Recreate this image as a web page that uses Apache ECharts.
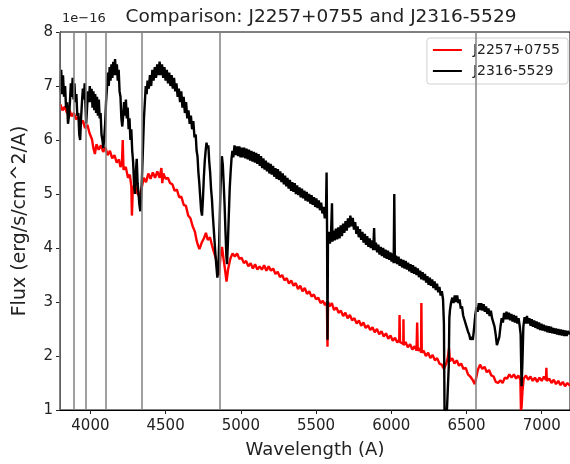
<!DOCTYPE html>
<html><head><meta charset="utf-8">
<script src="https://cdn.jsdelivr.net/npm/echarts@6/dist/echarts.min.js"></script>
<style>html,body{margin:0;padding:0;background:#fff}#c{width:570px;height:464px}</style>
</head><body><div id="c"></div>
<script>
const titleText = 'Comparison: J2257+0755 and J2316-5529';
const nameRed = 'J2257+0755';
const nameBlack = 'J2316-5529';
const xTicks = [4000, 4500, 5000, 5500, 6000, 6500, 7000];
const yTicks = [1, 2, 3, 4, 5, 6, 7, 8];
const lineWaves = [3798, 3889, 3970, 4102, 4340, 4861, 6563];

const j2257 = [[3800,6.66],[3815,6.55],[3830,6.62],[3845,6.5],[3860,6.56],[3875,6.44],[3890,6.5],[3905,6.38],[3920,6.44],[3935,6.3],[3950,6.36],[3965,6.22],[3980,6.28],[3995,6.12],[4010,6.02],[4020,5.85],[4030,5.74],[4040,5.92],[4055,5.82],[4070,5.9],[4085,5.78],[4100,5.86],[4115,5.72],[4130,5.8],[4145,5.66],[4160,5.72],[4175,5.58],[4190,5.64],[4200,5.5],[4210,5.58],[4215,6.0],[4220,5.45],[4235,5.5],[4250,5.3],[4262,5.36],[4272,5.15],[4276,4.6],[4282,5.1],[4295,5.18],[4310,5.02],[4325,4.96],[4340,5.1],[4355,5.3],[4370,5.22],[4385,5.38],[4400,5.28],[4415,5.4],[4430,5.3],[4445,5.42],[4460,5.3],[4472,5.48],[4478,5.2],[4485,5.38],[4500,5.28],[4515,5.3],[4530,5.2],[4545,5.18],[4560,5.06],[4575,5.08],[4590,4.94],[4605,4.95],[4620,4.8],[4635,4.78],[4650,4.6],[4665,4.55],[4680,4.4],[4695,4.3],[4705,4.15],[4715,4.05],[4725,3.98],[4740,4.1],[4755,4.18],[4768,4.28],[4780,4.15],[4795,4.2],[4808,4.05],[4820,4.02],[4835,3.8],[4848,3.55],[4855,3.5],[4865,3.85],[4875,4.02],[4885,3.8],[4895,3.6],[4905,3.38],[4915,3.6],[4930,3.8],[4945,3.9],[4960,3.84],[4975,3.9],[4990,3.8],[5005,3.82],[5020,3.72],[5035,3.76],[5050,3.66],[5065,3.72],[5080,3.62],[5095,3.7],[5110,3.6],[5125,3.66],[5140,3.6],[5155,3.68],[5170,3.58],[5185,3.66],[5200,3.58],[5215,3.62],[5230,3.52],[5245,3.56],[5260,3.46],[5275,3.5],[5290,3.4],[5305,3.44],[5320,3.34],[5335,3.4],[5350,3.3],[5365,3.35],[5380,3.24],[5395,3.3],[5410,3.2],[5425,3.26],[5440,3.15],[5455,3.2],[5470,3.1],[5485,3.14],[5500,3.05],[5515,3.08],[5530,2.98],[5545,3.02],[5560,2.94],[5572,3.0],[5576,2.17],[5580,3.0],[5590,2.92],[5605,2.98],[5620,2.85],[5635,2.9],[5650,2.8],[5665,2.84],[5680,2.74],[5695,2.8],[5710,2.7],[5725,2.76],[5740,2.66],[5755,2.7],[5770,2.6],[5785,2.66],[5800,2.56],[5815,2.62],[5830,2.52],[5845,2.57],[5860,2.48],[5875,2.53],[5890,2.44],[5905,2.5],[5920,2.4],[5935,2.46],[5950,2.36],[5965,2.42],[5980,2.32],[5995,2.38],[6010,2.28],[6025,2.34],[6040,2.25],[6053,2.3],[6055,2.76],[6058,2.26],[6070,2.28],[6080,2.22],[6081,2.68],[6083,2.2],[6095,2.26],[6110,2.16],[6125,2.22],[6140,2.12],[6155,2.18],[6168,2.1],[6172,2.62],[6176,2.1],[6190,2.14],[6198,2.06],[6200,2.98],[6203,2.06],[6215,2.1],[6230,2.0],[6245,2.06],[6260,1.96],[6275,2.02],[6290,1.92],[6305,1.96],[6320,1.86],[6335,1.84],[6350,1.76],[6365,1.86],[6375,1.96],[6384,2.14],[6390,1.9],[6405,1.96],[6420,1.86],[6435,1.92],[6450,1.82],[6465,1.86],[6480,1.76],[6495,1.78],[6510,1.66],[6525,1.62],[6540,1.56],[6555,1.48],[6565,1.6],[6575,1.74],[6590,1.84],[6605,1.76],[6620,1.8],[6635,1.7],[6650,1.74],[6665,1.64],[6680,1.62],[6695,1.52],[6710,1.5],[6725,1.55],[6740,1.5],[6755,1.6],[6770,1.58],[6785,1.66],[6800,1.6],[6815,1.66],[6830,1.58],[6845,1.64],[6858,1.56],[6862,1.0],[6866,1.05],[6872,1.35],[6880,1.58],[6895,1.64],[6910,1.56],[6925,1.62],[6940,1.54],[6955,1.6],[6970,1.52],[6985,1.6],[7000,1.54],[7015,1.62],[7028,1.56],[7031,1.78],[7034,1.54],[7050,1.58],[7065,1.5],[7080,1.56],[7095,1.48],[7110,1.54],[7125,1.46],[7140,1.52],[7155,1.44],[7170,1.5],[7188,1.45]];

const j2316 = [[3800,6.9],[3806,7.3],[3812,6.85],[3818,7.2],[3825,6.8],[3832,7.0],[3838,6.6],[3845,6.7],[3851,6.3],[3858,6.45],[3864,6.7],[3870,7.05],[3876,6.8],[3882,7.15],[3888,6.75],[3894,7.05],[3900,6.7],[3907,6.85],[3913,6.45],[3920,6.5],[3926,6.1],[3932,6.0],[3938,6.4],[3944,6.7],[3950,6.95],[3956,6.75],[3962,7.05],[3968,6.6],[3972,6.3],[3978,6.6],[3984,6.9],[3990,6.7],[3996,7.0],[4002,6.7],[4008,6.95],[4014,6.6],[4020,6.9],[4026,6.55],[4032,6.85],[4038,6.5],[4044,6.8],[4050,6.45],[4056,6.75],[4062,6.4],[4068,6.5],[4074,6.1],[4080,6.0],[4086,5.85],[4092,6.05],[4098,6.3],[4104,6.7],[4110,6.95],[4116,7.25],[4122,7.0],[4128,7.35],[4134,7.1],[4140,7.4],[4146,7.15],[4152,7.45],[4158,7.2],[4164,7.5],[4170,7.2],[4176,7.4],[4182,7.1],[4188,7.3],[4194,6.9],[4200,6.8],[4206,6.4],[4212,6.25],[4218,6.45],[4224,6.7],[4230,6.45],[4236,6.75],[4242,6.4],[4248,6.6],[4254,6.2],[4260,6.4],[4266,6.0],[4272,6.2],[4278,5.8],[4284,5.6],[4290,5.2],[4296,5.0],[4302,5.4],[4308,5.65],[4314,5.2],[4320,5.0],[4326,4.8],[4332,4.68],[4338,4.95],[4344,5.4],[4350,5.9],[4356,6.4],[4362,6.7],[4368,7.0],[4374,6.85],[4380,7.1],[4388,6.95],[4396,7.2],[4404,7.0],[4412,7.3],[4420,7.1],[4428,7.35],[4436,7.15],[4444,7.4],[4452,7.2],[4460,7.45],[4468,7.2],[4476,7.4],[4484,7.15],[4492,7.35],[4500,7.1],[4508,7.3],[4516,7.05],[4524,7.25],[4532,7.0],[4540,7.2],[4548,6.95],[4556,7.15],[4564,6.9],[4572,7.05],[4580,6.8],[4588,6.95],[4596,6.7],[4604,6.9],[4612,6.6],[4620,6.8],[4628,6.5],[4636,6.7],[4644,6.4],[4652,6.55],[4660,6.3],[4668,6.45],[4676,6.2],[4684,6.35],[4692,6.05],[4700,6.1],[4706,5.8],[4712,5.7],[4718,5.4],[4724,5.2],[4730,4.95],[4736,4.7],[4742,4.6],[4748,4.9],[4754,5.3],[4760,5.6],[4766,5.8],[4772,5.95],[4778,5.85],[4784,5.9],[4790,5.6],[4796,5.4],[4802,5.1],[4808,4.9],[4814,4.6],[4820,4.35],[4826,4.1],[4832,3.85],[4838,3.65],[4844,3.45],[4850,3.6],[4856,4.1],[4862,4.8],[4868,5.4],[4874,5.7],[4880,5.55],[4886,5.2],[4892,4.8],[4898,4.3],[4904,3.85],[4908,3.7],[4914,4.1],[4920,4.6],[4926,5.1],[4932,5.4],[4938,5.65],[4944,5.8],[4950,5.68],[4958,5.9],[4966,5.72],[4974,5.88],[4982,5.7],[4990,5.88],[4998,5.68],[5006,5.86],[5014,5.68],[5022,5.86],[5030,5.66],[5038,5.84],[5046,5.64],[5054,5.82],[5062,5.62],[5070,5.8],[5078,5.6],[5086,5.78],[5094,5.58],[5102,5.76],[5110,5.56],[5118,5.74],[5126,5.52],[5134,5.7],[5142,5.48],[5150,5.66],[5158,5.45],[5166,5.62],[5174,5.42],[5182,5.58],[5190,5.38],[5198,5.56],[5206,5.36],[5214,5.52],[5222,5.32],[5230,5.48],[5238,5.28],[5246,5.46],[5254,5.26],[5262,5.42],[5270,5.22],[5278,5.38],[5286,5.18],[5294,5.34],[5302,5.14],[5310,5.3],[5318,5.1],[5326,5.26],[5334,5.06],[5342,5.22],[5350,5.04],[5358,5.2],[5366,5.0],[5374,5.16],[5382,4.98],[5390,5.12],[5398,4.94],[5406,5.1],[5414,4.92],[5422,5.06],[5430,4.88],[5438,5.04],[5446,4.86],[5454,5.0],[5462,4.82],[5470,4.98],[5478,4.8],[5486,4.94],[5494,4.76],[5502,4.92],[5510,4.74],[5518,4.88],[5526,4.7],[5534,4.84],[5542,4.64],[5550,4.76],[5558,4.55],[5566,4.66],[5570,5.4],[5573,4.4],[5576,2.3],[5579,4.1],[5585,4.3],[5592,4.08],[5600,4.3],[5606,4.83],[5609,4.12],[5616,4.32],[5624,4.14],[5632,4.36],[5640,4.16],[5648,4.38],[5656,4.18],[5664,4.42],[5672,4.22],[5680,4.45],[5688,4.28],[5696,4.5],[5704,4.32],[5712,4.55],[5720,4.38],[5728,4.6],[5736,4.4],[5744,4.56],[5752,4.34],[5760,4.48],[5768,4.26],[5776,4.4],[5784,4.2],[5792,4.35],[5800,4.15],[5808,4.3],[5816,4.1],[5824,4.26],[5832,4.06],[5840,4.22],[5848,4.02],[5856,4.18],[5864,4.0],[5872,4.14],[5880,3.96],[5886,4.37],[5890,3.96],[5898,4.1],[5906,3.92],[5914,4.06],[5922,3.88],[5930,4.02],[5938,3.85],[5946,4.0],[5954,3.82],[5962,3.97],[5970,3.8],[5978,3.95],[5986,3.78],[5994,3.92],[6002,3.75],[6010,3.9],[6016,3.72],[6020,5.0],[6024,3.72],[6032,3.86],[6040,3.7],[6048,3.84],[6056,3.67],[6064,3.8],[6072,3.64],[6080,3.78],[6088,3.62],[6096,3.76],[6104,3.6],[6112,3.73],[6120,3.57],[6128,3.7],[6136,3.54],[6144,3.68],[6152,3.52],[6160,3.65],[6168,3.5],[6176,3.62],[6184,3.46],[6192,3.58],[6200,3.42],[6208,3.55],[6216,3.4],[6224,3.52],[6232,3.36],[6240,3.48],[6248,3.32],[6256,3.45],[6264,3.3],[6272,3.42],[6280,3.26],[6288,3.38],[6296,3.22],[6304,3.34],[6312,3.18],[6320,3.28],[6328,3.12],[6336,3.2],[6344,3.05],[6350,2.6],[6354,1.0],[6362,1.0],[6370,1.0],[6378,1.0],[6382,1.8],[6386,2.7],[6390,2.85],[6398,3.0],[6406,3.08],[6414,2.98],[6422,3.12],[6430,3.0],[6438,3.12],[6446,2.98],[6454,3.05],[6462,2.88],[6470,2.92],[6478,2.75],[6486,2.78],[6494,2.6],[6502,2.62],[6510,2.45],[6518,2.4],[6526,2.3],[6534,2.35],[6542,2.3],[6550,2.5],[6558,2.75],[6566,2.9],[6574,2.82],[6582,2.98],[6590,2.85],[6598,2.98],[6606,2.84],[6614,2.96],[6622,2.82],[6630,2.92],[6638,2.78],[6646,2.88],[6654,2.74],[6662,2.84],[6670,2.7],[6678,2.72],[6686,2.55],[6694,2.4],[6702,2.2],[6710,2.17],[6718,2.35],[6726,2.55],[6734,2.7],[6742,2.62],[6750,2.8],[6758,2.68],[6766,2.82],[6774,2.68],[6782,2.8],[6790,2.66],[6798,2.78],[6806,2.64],[6814,2.76],[6822,2.62],[6830,2.74],[6838,2.6],[6846,2.7],[6854,2.55],[6860,2.4],[6866,1.44],[6872,1.9],[6878,2.55],[6886,2.72],[6894,2.6],[6902,2.74],[6910,2.6],[6918,2.7],[6926,2.56],[6934,2.68],[6942,2.54],[6950,2.66],[6958,2.52],[6966,2.64],[6974,2.5],[6982,2.62],[6990,2.48],[6998,2.6],[7006,2.47],[7014,2.58],[7022,2.46],[7030,2.56],[7038,2.44],[7046,2.55],[7054,2.43],[7062,2.54],[7070,2.42],[7078,2.52],[7086,2.41],[7094,2.51],[7102,2.4],[7110,2.5],[7118,2.39],[7126,2.49],[7134,2.38],[7142,2.48],[7150,2.37],[7158,2.47],[7166,2.37],[7174,2.46],[7188,2.4]];

const FONT = 'DejaVu Sans';
const chart = echarts.init(document.getElementById('c'), null, {renderer: 'canvas'});
chart.setOption({
  animation: false,
  textStyle: {fontFamily: FONT},
  title: {text: titleText, left: 316, top: 3, textAlign: 'center',
    textStyle: {fontFamily: FONT, fontSize: 18.5, fontWeight: 'normal', color: '#222'}},
  graphic: [{type: 'text', left: 62, top: 12,
    style: {text: '1e\u221216', font: '13px "DejaVu Sans"', fill: '#222'}}],
  legend: {orient: 'vertical', right: 2, top: 38, itemWidth: 29, itemHeight: 2, itemGap: 7,
    icon: 'rect', padding: [5, 8, 6, 6], backgroundColor: '#fff', borderColor: '#d0d0d0',
    borderWidth: 1, borderRadius: 3,
    textStyle: {fontFamily: FONT, fontSize: 14, color: '#222', padding: [0, 0, 0, 6]},
    data: [nameRed, nameBlack]},
  grid: {left: 60, top: 32, width: 514, bottom: 51, show: true, borderColor: '#000', borderWidth: 1},
  xAxis: {type: 'value', min: 3798, max: 7188,
    name: 'Wavelength (A)', nameLocation: 'middle', nameGap: 31,
    nameTextStyle: {fontFamily: FONT, fontSize: 18, color: '#222'},
    axisLine: {lineStyle: {color: '#000'}},
    axisTick: {customValues: xTicks, length: 4, lineStyle: {color: '#222'}},
    axisLabel: {customValues: xTicks, formatter: v => String(v), fontSize: 15, color: '#222', margin: 9},
    splitLine: {show: false}},
  yAxis: {type: 'value', min: 1, max: 8, interval: 1,
    name: 'Flux (erg/s/cm^2/A)', nameLocation: 'middle', nameGap: 30,
    nameTextStyle: {fontFamily: FONT, fontSize: 19, color: '#222'},
    axisLine: {show: true, lineStyle: {color: '#000'}},
    axisTick: {show: true, length: 4, lineStyle: {color: '#222'}},
    axisLabel: {formatter: v => String(v), fontSize: 15, color: '#222', margin: 7},
    splitLine: {show: false}},
  series: [
    {name: nameRed, type: 'line', data: j2257, showSymbol: false, symbol: 'none',
     lineStyle: {color: '#ff0000', width: 2.4}, itemStyle: {color: '#ff0000'}, z: 2},
    {name: nameBlack, type: 'line', data: j2316, showSymbol: false, symbol: 'none',
     lineStyle: {color: '#000', width: 2.4}, itemStyle: {color: '#000'}, z: 3,
     markLine: {symbol: 'none', silent: true, label: {show: false},
       lineStyle: {color: '#808080', width: 1.5, type: 'solid'},
       data: lineWaves.map(w => ({xAxis: w}))}}
  ]
});
</script></body></html>
